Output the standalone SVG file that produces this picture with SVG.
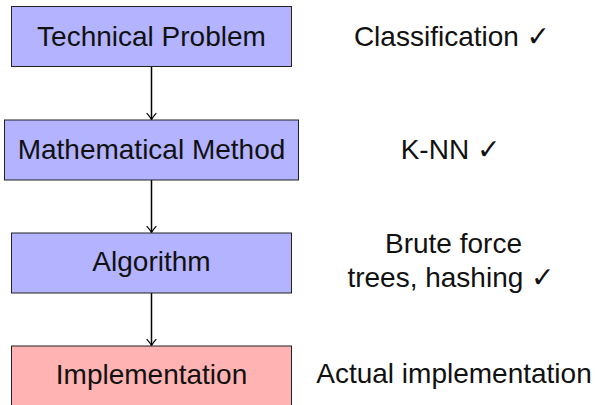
<svg xmlns="http://www.w3.org/2000/svg" width="595" height="405" viewBox="0 0 595 405">
  <defs>
    <style>
      .box { stroke: #222; stroke-width: 1; }
      .blue { fill: #b3b3ff; }
      .red { fill: #ffb3b3; }
      text { font-family: "Liberation Sans", "DejaVu Sans", sans-serif; font-size: 28px; fill: #111; text-anchor: middle; }
      .edge { stroke: #000; stroke-width: 1.5; fill: none; marker-end: url(#arrow); }
    </style>
    <marker id="arrow" viewBox="0 0 10 14" refX="9" refY="7" markerWidth="8" markerHeight="13" markerUnits="userSpaceOnUse" orient="auto">
      <path d="M1,1 Q6,5.5 9,7 Q6,8.5 1,13" fill="none" stroke="#000" stroke-width="1.5"/>
    </marker>
  </defs>

  <!-- vertical flow arrows -->
  <g id="connectors">
    <line class="edge" x1="151.5" y1="66" x2="151.5" y2="119.5"/>
    <line class="edge" x1="151.5" y1="180" x2="151.5" y2="232.5"/>
    <line class="edge" x1="151.5" y1="293" x2="151.5" y2="345.5"/>
  </g>

  <g id="technical-problem">
    <rect class="box blue" x="11.5" y="6.5" width="280" height="60"/>
    <text x="151.5" y="46">Technical Problem</text>
  </g>
  <g id="mathematical-method">
    <rect class="box blue" x="4.5" y="120" width="294" height="60"/>
    <text x="151.5" y="159">Mathematical Method</text>
  </g>
  <g id="algorithm">
    <rect class="box blue" x="11.5" y="233" width="280" height="60"/>
    <text x="151.5" y="271">Algorithm</text>
  </g>
  <g id="implementation">
    <rect class="box red" x="11.5" y="346" width="280" height="60"/>
    <text x="151.5" y="384">Implementation</text>
  </g>

  <!-- annotations to the right of each stage -->
  <g id="notes">
    <text x="452" y="46">Classification ✓</text>
    <text x="450.5" y="159">K-NN ✓</text>
    <text x="453.5" y="253">Brute force</text>
    <text x="451" y="287">trees, hashing ✓</text>
    <text x="454" y="383">Actual implementation</text>
  </g>
</svg>
